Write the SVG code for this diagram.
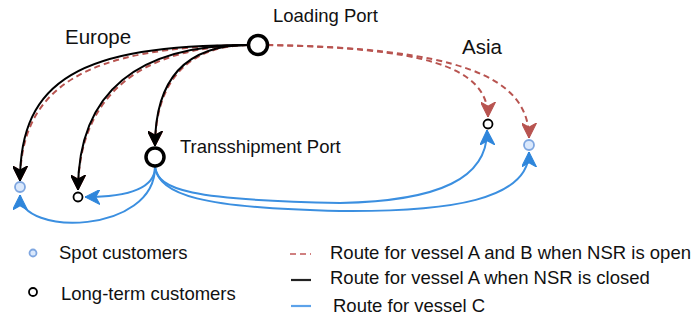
<svg xmlns="http://www.w3.org/2000/svg" width="698" height="320" viewBox="0 0 698 320">
  <style>
    text { font-family: "Liberation Sans", Arial, Helvetica, sans-serif; fill: #111; }
    .lbl { font-size: 18.5px; }
    .region { font-size: 20.5px; }
    .route-black { fill: none; stroke: #000; stroke-width: 2; }
    .route-red { fill: none; stroke: #b85450; stroke-width: 2; stroke-dasharray: 6 4; }
    .route-blue { fill: none; stroke: #3b8fe0; stroke-width: 2; }
    .port { fill: #fff; stroke: #000; stroke-width: 3.5; }
    .spot { fill: #dae8fc; stroke: #7ea6e0; stroke-width: 1.8; }
    .longterm { fill: #fff; stroke: #000; stroke-width: 1.8; }
  </style>
  <defs>
    <marker id="arrow-black" viewBox="0 0 14 14" refX="14" refY="7" markerWidth="15" markerHeight="15" markerUnits="userSpaceOnUse" orient="auto">
      <path d="M0,0 L14,7 L0,14 L4,7 Z" fill="#000" stroke="#000" stroke-width="1"/>
    </marker>
    <marker id="arrow-red" viewBox="0 0 14 14" refX="14" refY="7" markerWidth="15" markerHeight="15" markerUnits="userSpaceOnUse" orient="auto">
      <path d="M0,0 L14,7 L0,14 L4,7 Z" fill="#b85450" stroke="#b85450" stroke-width="1"/>
    </marker>
    <marker id="arrow-blue" viewBox="0 0 14 14" refX="14" refY="7" markerWidth="15" markerHeight="15" markerUnits="userSpaceOnUse" orient="auto">
      <path d="M0,0 L14,7 L0,14 L4,7 Z" fill="#2f86db" stroke="#2f86db" stroke-width="1"/>
    </marker>
  </defs>

  <!-- region labels -->
  <text class="region" x="65" y="44">Europe</text>
  <text class="region" x="462" y="54">Asia</text>

  <g id="connectors">
    <!-- vessel A and B, NSR open (dashed red) -->
    <path class="route-red" d="M248,45 C86,47 21,86 20,181" marker-end="url(#arrow-red)"/>
    <path class="route-red" d="M248,45 C143,47 79,93 78,190" marker-end="url(#arrow-red)"/>
    <path class="route-red" d="M248,45 C191,46 156,77 155,146" marker-end="url(#arrow-red)"/>
    <path class="route-red" d="M267,45 C420,48 488,65 488,117" marker-end="url(#arrow-red)"/>
    <path class="route-red" d="M267,45 C455,48 529,75 529,138" marker-end="url(#arrow-red)"/>

    <!-- vessel A, NSR closed (solid black) -->
    <path class="route-black" d="M248,45 C80,45 20,80 20,181" marker-end="url(#arrow-black)"/>
    <path class="route-black" d="M248,45 C140,45 78,90 78,190" marker-end="url(#arrow-black)"/>
    <path class="route-black" d="M248,45 C190,45 155,75 155,146" marker-end="url(#arrow-black)"/>

    <!-- vessel C (solid blue) -->
    <path class="route-blue" d="M155,167 C155,190 125,197 85,197" marker-end="url(#arrow-blue)"/>
    <path class="route-blue" d="M155,167 C155,234 20,237 20,195" marker-end="url(#arrow-blue)"/>
    <path class="route-blue" d="M155,167 C158,190 190,200 340,203 C440,201 488,178 487,130" marker-end="url(#arrow-blue)"/>
    <path class="route-blue" d="M155,167 C160,195 200,208 340,211 C450,212 529,200 529,152" marker-end="url(#arrow-blue)"/>
  </g>

  <g id="loading-port">
    <circle class="port" cx="258" cy="45" r="9.5"/>
    <text class="lbl" x="273" y="22">Loading Port</text>
  </g>

  <g id="transshipment-port">
    <circle class="port" cx="155" cy="157" r="9"/>
    <text class="lbl" x="180" y="153">Transshipment Port</text>
  </g>

  <g id="europe-spot">
    <circle class="spot" cx="20" cy="187" r="5"/>
  </g>
  <g id="europe-longterm">
    <circle class="longterm" cx="78" cy="197" r="4.5"/>
  </g>
  <g id="asia-longterm">
    <circle class="longterm" cx="488" cy="124" r="4.5"/>
  </g>
  <g id="asia-spot">
    <circle class="spot" cx="529" cy="145" r="5"/>
  </g>

  <g id="legend">
    <circle class="spot" cx="33" cy="253" r="3.5" stroke-width="1.5"/>
    <text class="lbl" x="59" y="259">Spot customers</text>
    <circle class="longterm" cx="33" cy="292" r="4"/>
    <text class="lbl" x="61" y="300">Long-term customers</text>

    <line x1="290" y1="254" x2="311" y2="254" stroke="#d08080" stroke-width="2" stroke-dasharray="6 4"/>
    <text class="lbl" x="330" y="259">Route for vessel A and B when NSR is open</text>
    <line x1="291" y1="280" x2="311" y2="280" stroke="#222" stroke-width="2.2"/>
    <text class="lbl" x="330" y="284">Route for vessel A when NSR is closed</text>
    <line x1="291" y1="306" x2="311" y2="306" stroke="#5ca2ea" stroke-width="2.2"/>
    <text class="lbl" x="333" y="312">Route for vessel C</text>
  </g>
</svg>
